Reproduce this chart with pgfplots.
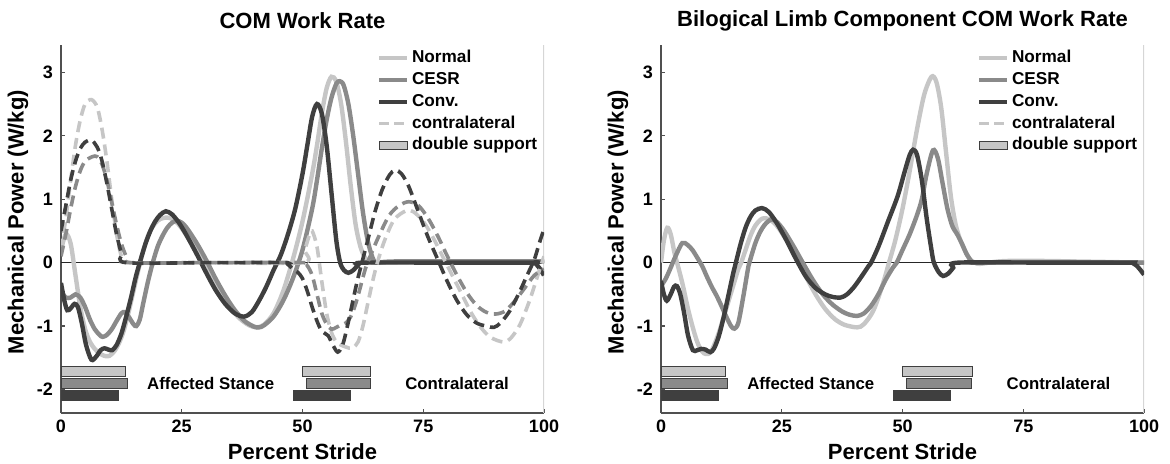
\documentclass[border=0pt]{standalone}
\usepackage{fontspec}
\setmainfont{Liberation Sans}
\usepackage{pgfplots}
\pgfplotsset{compat=1.18}
\definecolor{cN}{HTML}{C6C6C6}
\definecolor{cC}{HTML}{8A8A8A}
\definecolor{cV}{HTML}{3F3F3F}
\definecolor{axc}{HTML}{505050}
\definecolor{rline}{HTML}{D6D6D6}
\tikzset{annot/.style={font=\fontsize{8.4}{10}\selectfont\bfseries}}
\pgfplotsset{
  myax/.style={
    scale only axis, width=241.5pt, height=184pt,
    xmin=0,xmax=100,ymin=-2.37,ymax=3.43,
    axis x line*=bottom, axis y line*=left,
    axis line style={-,axc,line width=0.6pt},
    xtick={0,25,50,75,100}, xticklabels={0,25,50,75,100},
    ytick={-2,-1,0,1,2,3}, yticklabels={-2,-1,0,1,2,3},
    tick align=inside, major tick length=2.2pt,
    tick style={axc,line width=0.6pt},
    ticklabel style={font=\fontsize{9}{10}\selectfont\bfseries},
    xticklabel style={inner sep=0pt, yshift=-3.5pt, anchor=north},
    yticklabel style={inner sep=0pt, xshift=-3.85pt, anchor=east},
    label style={font=\fontsize{11}{12}\selectfont\bfseries},
    xlabel={Percent Stride},
    ylabel={Mechanical Power (W/kg)},
    xlabel style={at={(axis description cs:0.5,0)},anchor=center,yshift=-19.5pt},
    ylabel style={at={(axis description cs:-0.089,0.519)},anchor=center},
    title style={font=\fontsize{11}{12}\selectfont\bfseries, at={(axis description cs:0.5,1)},anchor=center,yshift=6pt},
    legend style={at={(1,1)}, anchor=north east, xshift=-2pt, yshift=-0.9pt, draw=none, fill=none, inner sep=0pt,
      font=\fontsize{8.6}{10}\selectfont\bfseries, nodes={inner sep=1.2pt, text height=6.5pt, text depth=2pt}, row sep=0pt, cells={anchor=west}},
    legend image code/.code={\draw[##1] (0pt,0pt) -- (14pt,0pt);},
  },
  sN/.style={cN, line width=2.2pt, smooth, tension=0.5},
  sC/.style={cC, line width=2.2pt, smooth, tension=0.5},
  sV/.style={cV, line width=2.2pt, smooth, tension=0.5},
  dsh/.style={dash pattern=on 5.5pt off 3pt, line width=1.8pt},
  barst/.style={draw=cV, line width=0.5pt},
}
\begin{document}
\begin{tikzpicture}
\useasboundingbox (0,0) rectangle (585pt,231.5pt);
% ---------------- LEFT ----------------
\begin{axis}[myax, at={(30.5pt,25pt)}, anchor=south west, title={COM Work Rate}]
\addlegendimage{cN, line width=2.2pt}
\addlegendentry{Normal}
\addlegendimage{cC, line width=2.2pt}
\addlegendentry{CESR}
\addlegendimage{cV, line width=2.2pt}
\addlegendentry{Conv.}
\addlegendimage{cN, line width=1.8pt, dash pattern=on 5pt off 2.5pt}
\addlegendentry{contralateral}
\addlegendimage{legend image code/.code={\draw[fill=cN,draw=cV,line width=0.5pt] (0pt,-2.1pt) rectangle (14pt,2.1pt);}}
\addlegendentry{double support}
\draw[rline, line width=1.2pt] (rel axis cs:1,0) -- (rel axis cs:1,1);
\addplot[black!85, line width=0.5pt, forget plot] coordinates {(0,0) (100,0)};
% Normal
\addplot[sN, forget plot] coordinates {(0,0.2)(1,0.45)(2,0.3)(3,-0.2)(4,-0.7)(5,-1.05)(6,-1.25)(7,-1.36)(8,-1.43)(9,-1.47)(10,-1.47)(11,-1.4)(12,-1.27)(13,-1.07)(14,-0.78)(15,-0.45)(16,-0.12)(17,0.18)(18,0.42)(19,0.57)(20,0.66)(21,0.7)(22,0.71)(23,0.69)(24,0.63)(25,0.54)(27,0.32)(29,0.05)(31,-0.22)(33,-0.48)(35,-0.7)(37,-0.88)(39,-0.99)(40.5,-1.02)(42,-0.98)(44,-0.8)(46,-0.45)(48,0.05)(50,0.65)(52,1.4)(53,1.85)(54,2.35)(55,2.75)(56,2.93)(57,2.85)(58,2.5)(59,1.9)(60,1.2)(61,0.6)(62,0.25)(63,0.07)(64,0.01)(66,0)(80,0.02)(100,0.02)};
% CESR
\addplot[sC, forget plot] coordinates {(0,-0.45)(1,-0.55)(2,-0.55)(3,-0.5)(4,-0.55)(5,-0.7)(6,-0.9)(7,-1.05)(8,-1.14)(8.6,-1.17)(9.5,-1.14)(10.5,-1.05)(11.5,-0.92)(12.5,-0.8)(13.2,-0.78)(14,-0.85)(15,-0.97)(15.6,-1.0)(16.3,-0.9)(17,-0.65)(18,-0.3)(19,0.0)(20,0.25)(21,0.42)(22,0.55)(23,0.63)(24,0.66)(25,0.63)(26,0.55)(28,0.32)(30,0.05)(32,-0.25)(34,-0.52)(36,-0.75)(38,-0.92)(40,-1.01)(41,-1.02)(42,-0.99)(44,-0.85)(46,-0.6)(48,-0.25)(50,0.2)(52,0.85)(53,1.3)(54,1.8)(55,2.25)(56,2.6)(57,2.82)(57.7,2.86)(58.5,2.8)(59.5,2.5)(60.5,2.0)(61.5,1.4)(62.5,0.8)(63.5,0.35)(64.5,0.08)(65.5,0.0)(70,0.02)(100,0.02)};
% Conv
\addplot[sV, forget plot] coordinates {(0,-0.32)(0.7,-0.6)(1.3,-0.75)(2,-0.72)(2.8,-0.65)(3.5,-0.7)(4.3,-0.95)(5.2,-1.3)(6.3,-1.53)(7.3,-1.48)(8.2,-1.38)(9,-1.35)(9.8,-1.37)(10.6,-1.38)(11.5,-1.3)(12.5,-1.12)(13.5,-0.85)(14.5,-0.55)(15.5,-0.22)(16.5,0.05)(17.5,0.3)(18.5,0.5)(19.5,0.65)(20.5,0.75)(21.7,0.81)(23,0.76)(24.5,0.62)(26,0.43)(28,0.15)(30,-0.15)(32,-0.43)(34,-0.65)(36,-0.8)(37.9,-0.85)(39.5,-0.78)(41,-0.6)(42.5,-0.38)(44,-0.12)(45.5,0.12)(47,0.45)(48.5,0.85)(50,1.4)(51,1.85)(52,2.3)(53,2.5)(54,2.35)(55,1.85)(56,1.1)(57,0.35)(57.8,0.0)(58.6,-0.12)(59.5,-0.16)(60.5,-0.12)(61.5,-0.04)(62.5,0.0)(80,0.0)(97,0.0)(98,0.0)(99,-0.08)(100,-0.2)};
% contralateral Normal
\addplot[sN, dsh, forget plot] coordinates {(0,0.2)(1,0.7)(2,1.3)(3,1.85)(4,2.25)(5,2.5)(6.3,2.57)(7.5,2.45)(8.5,2.1)(9.5,1.6)(10.5,1.0)(11.5,0.45)(12.5,0.1)(13.5,0.0)(30,0.0)(50,0.0)(50.5,0.2)(51.5,0.45)(52,0.5)(53,0.25)(54,-0.3)(55,-0.8)(56,-1.1)(57,-1.25)(58,-1.3)(59,-1.33)(60.3,-1.35)(61.5,-1.25)(62.5,-1.0)(63.5,-0.65)(64.5,-0.3)(65.5,0.0)(67,0.35)(69,0.68)(71.5,0.82)(73,0.8)(75,0.65)(77,0.4)(79,0.1)(81,-0.2)(83,-0.5)(85,-0.8)(87,-1.03)(89,-1.18)(91.5,-1.25)(93,-1.2)(95,-0.98)(97,-0.6)(98.5,-0.25)(100,0.1)};
% contralateral CESR
\addplot[sC, dsh, forget plot] coordinates {(0,0.1)(1,0.45)(2,0.85)(3,1.2)(4,1.45)(5,1.6)(6.5,1.67)(7.5,1.67)(8.5,1.55)(9.5,1.3)(10.5,0.95)(11.5,0.6)(12.5,0.3)(13.5,0.1)(14.5,0.0)(30,0.0)(50,0.0)(51,-0.05)(52,-0.2)(53,-0.5)(54,-0.8)(55,-0.97)(56,-1.05)(57,-1.02)(58,-0.98)(59,-0.95)(60,-0.85)(61,-0.65)(62,-0.38)(63,-0.1)(64,0.1)(66,0.45)(68,0.75)(70,0.9)(72,0.96)(74,0.9)(76,0.7)(78,0.42)(80,0.1)(82,-0.2)(84,-0.47)(86,-0.67)(88,-0.78)(90,-0.81)(92,-0.76)(94,-0.6)(96,-0.4)(98,-0.2)(100,-0.1)};
% contralateral Conv
\addplot[sV, dsh, forget plot] coordinates {(0,0.5)(1,0.9)(2,1.3)(3,1.6)(4,1.8)(5,1.9)(6.3,1.93)(7.5,1.82)(8.5,1.6)(9.5,1.25)(10.5,0.85)(11.5,0.45)(12.5,0.15)(13.5,0.0)(30,0.0)(46,0.0)(47,-0.03)(48,-0.1)(49,-0.15)(50,-0.25)(51,-0.45)(52,-0.7)(53,-0.92)(54,-1.08)(55.3,-1.15)(56.3,-1.3)(57.3,-1.41)(58.3,-1.3)(59.3,-1.0)(60.3,-0.65)(61.3,-0.3)(62.3,0.0)(63.5,0.35)(65,0.8)(66.5,1.15)(68,1.38)(69.2,1.46)(70.5,1.4)(72,1.2)(74,0.8)(76,0.4)(78,0.05)(80,-0.3)(82,-0.6)(84,-0.82)(86,-0.95)(88,-1.0)(89.6,-1.02)(91,-0.95)(93,-0.75)(95,-0.45)(96.5,-0.2)(98,0.05)(99,0.3)(100,0.53)};
% double support bars
\addplot[barst, fill=cN, forget plot] coordinates {(0,-1.63)(13.4,-1.63)(13.4,-1.79)(0,-1.79)} -- cycle;
\addplot[barst, fill=cC, forget plot] coordinates {(0,-1.83)(13.8,-1.83)(13.8,-1.98)(0,-1.98)} -- cycle;
\addplot[barst, fill=cV, forget plot] coordinates {(0,-2.02)(11.9,-2.02)(11.9,-2.17)(0,-2.17)} -- cycle;
\addplot[barst, fill=cN, forget plot] coordinates {(49.9,-1.63)(64.1,-1.63)(64.1,-1.79)(49.9,-1.79)} -- cycle;
\addplot[barst, fill=cC, forget plot] coordinates {(50.9,-1.83)(64.1,-1.83)(64.1,-1.98)(50.9,-1.98)} -- cycle;
\addplot[barst, fill=cV, forget plot] coordinates {(48.1,-2.02)(59.9,-2.02)(59.9,-2.17)(48.1,-2.17)} -- cycle;
\node[annot] at (axis cs:31,-1.9) {Affected Stance};
\node[annot] at (axis cs:82,-1.9) {Contralateral};
\end{axis}
% ---------------- RIGHT ----------------
\begin{axis}[myax, at={(330.5pt,25pt)}, anchor=south west, title={Bilogical Limb Component COM Work Rate}]
\addlegendimage{cN, line width=2.2pt}
\addlegendentry{Normal}
\addlegendimage{cC, line width=2.2pt}
\addlegendentry{CESR}
\addlegendimage{cV, line width=2.2pt}
\addlegendentry{Conv.}
\addlegendimage{cN, line width=1.8pt, dash pattern=on 5pt off 2.5pt}
\addlegendentry{contralateral}
\addlegendimage{legend image code/.code={\draw[fill=cN,draw=cV,line width=0.5pt] (0pt,-2.1pt) rectangle (14pt,2.1pt);}}
\addlegendentry{double support}
\draw[rline, line width=1.2pt] (rel axis cs:1,0) -- (rel axis cs:1,1);
\addplot[black!85, line width=0.5pt, forget plot] coordinates {(0,0) (100,0)};
% Normal
\addplot[sN, forget plot] coordinates {(0,0.0)(0.6,0.35)(1.3,0.55)(2,0.45)(2.8,0.15)(3.5,-0.05)(4.5,-0.35)(5.5,-0.7)(6.5,-1.0)(7.5,-1.25)(8.5,-1.4)(9.3,-1.44)(10.2,-1.42)(11,-1.3)(12,-1.1)(13,-0.85)(14,-0.6)(15,-0.35)(16,-0.1)(16.6,0.0)(17.5,0.2)(18.5,0.42)(19.5,0.58)(20.5,0.67)(21.3,0.7)(22.5,0.68)(24,0.58)(26,0.35)(28,0.07)(30,-0.22)(32,-0.5)(34,-0.73)(36,-0.89)(38,-0.98)(40.6,-1.02)(42,-0.97)(44,-0.75)(46,-0.32)(47.2,0.0)(48.5,0.35)(50,0.85)(51.5,1.45)(53,2.1)(54.5,2.65)(56,2.93)(57,2.85)(58,2.45)(59,1.75)(60,1.05)(61,0.6)(62,0.35)(63,0.18)(64,0.05)(65,0.0)(66,-0.02)(70,0.02)(75,0.03)(85,0.02)(100,0.0)};
% CESR
\addplot[sC, forget plot] coordinates {(0,-0.37)(1,-0.25)(2,-0.08)(3,0.1)(4.4,0.31)(5.5,0.28)(6.5,0.2)(7.5,0.08)(8.5,-0.05)(9.5,-0.22)(10.5,-0.38)(11.5,-0.52)(12.5,-0.68)(13.5,-0.85)(14.5,-1.0)(15.2,-1.04)(16,-0.95)(17,-0.55)(18,-0.1)(18.3,0.0)(19.5,0.3)(20.5,0.48)(21.5,0.6)(22.8,0.68)(24,0.64)(25.5,0.5)(27.5,0.25)(29.5,-0.02)(31.5,-0.28)(33.5,-0.5)(35.5,-0.66)(37.5,-0.77)(39,-0.82)(40.6,-0.84)(42,-0.8)(43.5,-0.68)(45,-0.5)(46.5,-0.27)(48,-0.08)(48.8,0.0)(50,0.2)(51.5,0.45)(53,0.75)(54,1.0)(55,1.4)(56.3,1.77)(57.3,1.65)(58.3,1.25)(59.3,0.85)(60.3,0.58)(61.3,0.45)(62.3,0.3)(63.3,0.13)(64.3,0.02)(65,0.0)(75,0.01)(100,0.0)};
% Conv
\addplot[sV, forget plot] coordinates {(0,-0.29)(0.6,-0.5)(1.2,-0.6)(2,-0.5)(2.7,-0.38)(3.3,-0.37)(4,-0.5)(4.8,-0.8)(5.6,-1.15)(6.6,-1.38)(7.5,-1.38)(8.3,-1.36)(9.2,-1.37)(10.2,-1.41)(11,-1.35)(12,-1.15)(13,-0.85)(14,-0.5)(15,-0.15)(15.5,0.0)(16.5,0.3)(17.5,0.55)(18.5,0.72)(19.5,0.82)(20.9,0.86)(22.3,0.8)(24,0.62)(26,0.35)(28,0.05)(30,-0.22)(32,-0.4)(34,-0.5)(35.5,-0.54)(37.2,-0.55)(38.5,-0.5)(40,-0.38)(41.5,-0.22)(43,-0.05)(43.5,0.0)(45,0.25)(47,0.65)(49,1.05)(50.5,1.45)(51.5,1.7)(52.2,1.78)(53,1.7)(54,1.3)(55,0.7)(56,0.2)(56.5,0.0)(57.5,-0.15)(58.4,-0.21)(59.5,-0.17)(60.5,-0.08)(61.5,0.0)(80,0.0)(97,0.0)(97.5,0.0)(98.5,-0.05)(99.3,-0.12)(100,-0.19)};
% double support bars
\addplot[barst, fill=cN, forget plot] coordinates {(0,-1.63)(13.4,-1.63)(13.4,-1.79)(0,-1.79)} -- cycle;
\addplot[barst, fill=cC, forget plot] coordinates {(0,-1.83)(13.8,-1.83)(13.8,-1.98)(0,-1.98)} -- cycle;
\addplot[barst, fill=cV, forget plot] coordinates {(0,-2.02)(12.0,-2.02)(12.0,-2.17)(0,-2.17)} -- cycle;
\addplot[barst, fill=cN, forget plot] coordinates {(50,-1.63)(64.5,-1.63)(64.5,-1.79)(50,-1.79)} -- cycle;
\addplot[barst, fill=cC, forget plot] coordinates {(50.9,-1.83)(64.3,-1.83)(64.3,-1.98)(50.9,-1.98)} -- cycle;
\addplot[barst, fill=cV, forget plot] coordinates {(48.2,-2.02)(60,-2.02)(60,-2.17)(48.2,-2.17)} -- cycle;
\node[annot] at (axis cs:31,-1.9) {Affected Stance};
\node[annot] at (axis cs:82.3,-1.9) {Contralateral};
\end{axis}
\end{tikzpicture}
\end{document}
